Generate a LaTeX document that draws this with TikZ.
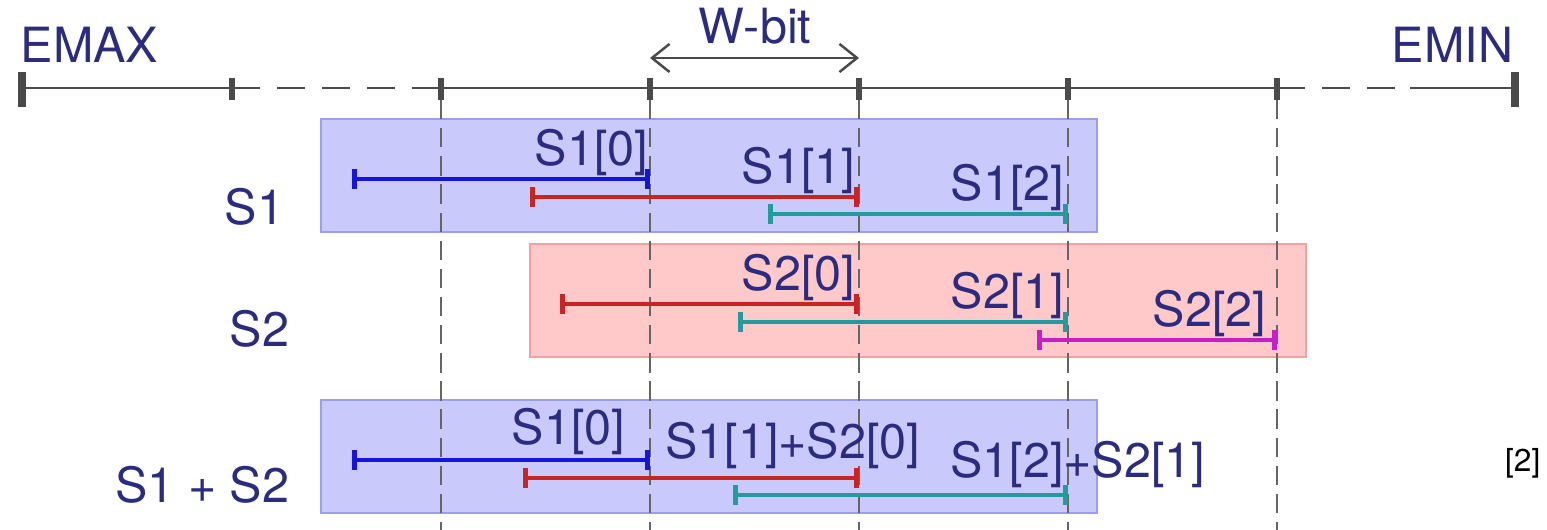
\documentclass[tikz,border=0pt]{standalone}
\usepackage{fontspec}
\setmainfont{TeX Gyre Heros}
\usepackage{tikz}
\usetikzlibrary{arrows.meta}

\definecolor{txtnavy}{HTML}{2B2B80}
\definecolor{axisgray}{HTML}{4A4A4A}
\definecolor{boxblue}{HTML}{C9C9FB}
\definecolor{boxblueline}{HTML}{9C9CF0}
\definecolor{boxpink}{HTML}{FFC9C9}
\definecolor{boxpinkline}{HTML}{F2A2A2}
\definecolor{segblue}{HTML}{1414DC}
\definecolor{segred}{HTML}{C82424}
\definecolor{segteal}{HTML}{239B9B}
\definecolor{segmag}{HTML}{C81EC8}

\tikzset{
  lbl/.style={text=txtnavy,inner sep=0pt,font=\fontsize{13.8}{16}\selectfont},
  seg/.style={line width=1pt,{Bar[width=5.5pt,line width=1.4pt]}-{Bar[width=5.5pt,line width=1.4pt]}},
  guide/.style={axisgray!85,line width=0.4pt,dash pattern=on 5.5pt off 2.5pt},
  tick/.style={axisgray,line width=1.5pt},
  bluebox/.style={fill=boxblue,draw=boxblueline,line width=0.4pt},
  pinkbox/.style={fill=boxpink,draw=boxpinkline,line width=0.4pt}
}

\begin{document}
\begin{tikzpicture}[x=0.01cm,y=-0.01cm]
\useasboundingbox (0,0) rectangle (1547,530);

% boxes
\draw[bluebox] (321,119) rectangle (1097,232);
\draw[pinkbox] (530,244) rectangle (1306,357);
\draw[bluebox] (321,400) rectangle (1097,513);

% axis
\foreach \x [count=\i] in {22,232,441,650,859,1068,1277,1515}
  \coordinate (t\i) at (\x,88);
\draw[axisgray,line width=0.8pt] (t1) -- (t2);
\draw[axisgray,line width=0.8pt,dash pattern=on 8pt off 4.8pt] (t2) -- (t3);
\draw[axisgray,line width=0.8pt] (t3) -- (t7);
\draw[axisgray,line width=0.8pt,dash pattern=on 8pt off 4.8pt] (t7) -- (1410,88);
\draw[axisgray,line width=0.8pt] (1410,88) -- (t8);
\draw[axisgray,line width=2pt] (22,72) -- (22,107);
\draw[axisgray,line width=2pt] (1515,72) -- (1515,107);
\foreach \i in {2,...,7}
  \draw[tick] ([yshift=0.1cm]t\i) -- ([yshift=-0.12cm]t\i);
\foreach \i in {3,...,7}
  \draw[guide] ([yshift=-0.12cm]t\i) -- (t\i |- 0,530);

\node[lbl,anchor=base west] (emax) at (20,62) {EMAX};
\node[lbl,anchor=base east] (emin) at (1514,62) {EMIN};
\node[lbl,anchor=base] (wbit) at (755,43) {W-bit};
\draw[axisgray,line width=0.7pt,{Straight Barb[length=5pt,width=8pt]}-{Straight Barb[length=5pt,width=8pt]}]
  ([yshift=0.3cm]t4) -- ([yshift=0.3cm]t5);

% S1
\node[lbl,anchor=base east] (s1) at (285,224) {S1};
\draw[seg,segblue] (352,179) -- (650,179);
\draw[seg,segred] (530,197) -- (859,197);
\draw[seg,segteal] (768,214) -- (1068,214);
\node[lbl,anchor=base east] (s1a) at (649,165) {S1[0]};
\node[lbl,anchor=base east] (s1b) at (856,183) {S1[1]};
\node[lbl,anchor=base east] (s1c) at (1065,200) {S1[2]};

% S2
\node[lbl,anchor=base east] (s2) at (290,346) {S2};
\draw[seg,segred] (560,304) -- (859,304);
\draw[seg,segteal] (738,322) -- (1068,322);
\draw[seg,segmag] (1037,340) -- (1277,340);
\node[lbl,anchor=base east] (s2a) at (856,290) {S2[0]};
\node[lbl,anchor=base east] (s2b) at (1065,308) {S2[1]};
\node[lbl,anchor=base east] (s2c) at (1267,326) {S2[2]};

% S1 + S2
\node[lbl,anchor=base east] (sum) at (290,502) {S1 + S2};
\draw[seg,segblue] (352,460) -- (650,460);
\draw[seg,segred] (523,478) -- (859,478);
\draw[seg,segteal] (733,495) -- (1068,495);
\node[lbl,anchor=base east] (suma) at (626,444) {S1[0]};
\node[lbl,anchor=base east] (sumb) at (921,458) {S1[1]+S2[0]};
\node[lbl,anchor=base east] (sumc) at (1206,477) {S1[2]+S2[1]};

\node[inner sep=0pt,anchor=base east,font=\fontsize{9}{11}\selectfont] (ref) at (1541,471) {[2]};
\end{tikzpicture}
\end{document}
